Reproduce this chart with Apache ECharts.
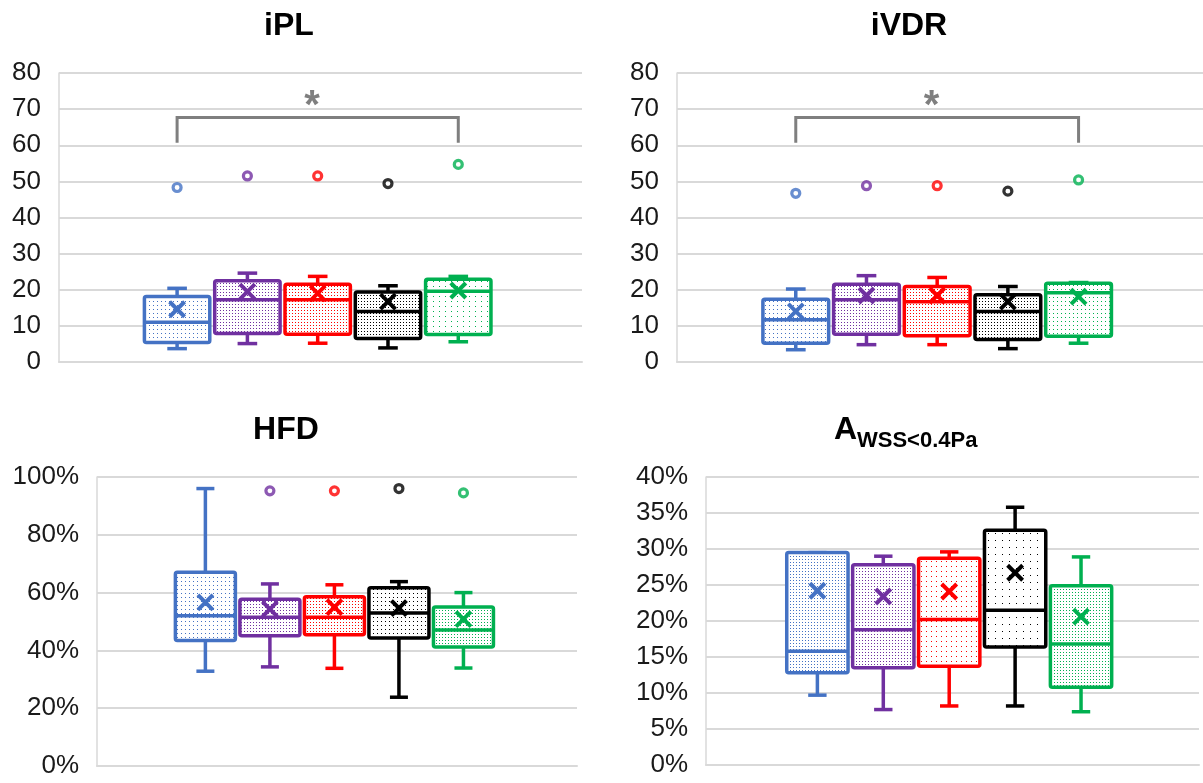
<!DOCTYPE html>
<html><head><meta charset="utf-8">
<script src="https://cdn.jsdelivr.net/npm/echarts@6/dist/echarts.min.js"></script>
<style>html,body{margin:0;padding:0;background:#fff}#c{width:1203px;height:783px}</style>
</head><body><div id="c"></div>
<script>
// ---- data ----
const groups = ['Group 1', 'Group 2', 'Group 3', 'Group 4', 'Group 5'];
const groupColors = ['#4472C4', '#7030A0', '#FF0000', '#000000', '#00B050'];

// iPL
const iplMin    = [3.7, 5.1, 5.2, 3.9, 5.6];
const iplQ1     = [5.4, 7.9, 7.7, 6.5, 7.6];
const iplMedian = [11.0, 17.2, 17.2, 14.0, 19.6];
const iplQ3     = [18.1, 22.5, 21.5, 19.4, 22.9];
const iplMax    = [20.4, 24.6, 23.7, 21.1, 23.7];
const iplMean   = [14.6, 19.5, 19.0, 16.7, 19.8];
const iplOutlier = [48.3, 51.5, 51.5, 49.4, 54.7];

// iVDR
const ivdrMin    = [3.4, 4.8, 4.8, 3.7, 5.2];
const ivdrQ1     = [5.2, 7.7, 7.3, 6.2, 7.1];
const ivdrMedian = [11.7, 17.2, 16.7, 14.0, 19.2];
const ivdrQ3     = [17.4, 21.5, 20.9, 18.6, 21.8];
const ivdrMax    = [20.2, 23.9, 23.4, 20.9, 22.0];
const ivdrMean   = [14.0, 18.4, 18.4, 16.7, 18.1];
const ivdrOutlier = [46.7, 48.8, 48.8, 47.3, 50.4];

// HFD (%)
const hfdMin    = [32.8, 34.3, 33.8, 23.8, 33.9];
const hfdQ1     = [43.4, 45.1, 45.4, 44.3, 41.2];
const hfdMedian = [52.0, 51.5, 51.5, 52.9, 47.1];
const hfdQ3     = [67.0, 57.7, 58.6, 61.7, 55.0];
const hfdMax    = [96.0, 63.0, 62.7, 63.8, 60.0];
const hfdMean   = [56.6, 54.3, 55.0, 54.6, 50.8];
const hfdOutlier = [null, 95.2, 95.2, 96.0, 94.5];

// A WSS<0.4Pa (%)
const awssMin    = [9.7, 7.7, 8.2, 8.2, 7.4];
const awssQ1     = [12.8, 13.5, 13.7, 16.4, 10.8];
const awssMedian = [15.8, 18.8, 20.2, 21.5, 16.8];
const awssQ3     = [29.5, 27.8, 28.7, 32.6, 24.9];
const awssMax    = [29.5, 29.0, 29.6, 35.8, 28.9];
const awssMean   = [24.2, 23.4, 24.1, 26.7, 20.6];
const awssOutlier = [null, null, null, null, null];

// y-axis ticks: [min, max, interval]
const iplTicks  = [0, 80, 10];
const ivdrTicks = [0, 80, 10];
const hfdTicks  = [0, 100, 20];
const awssTicks = [0, 40, 5];

// significance bracket: [from group, to group]
const sigPairIPL  = [0, 4];
const sigPairIVDR = [0, 4];

// ---- styling / layout ----
const FONT = '"Liberation Sans", Arial, sans-serif';
const GRID_COLOR = '#d9d9d9';
const BOX_W = 0.93;

function dotPattern(color, sx, sy) {
  const c = document.createElement('canvas');
  c.width = sx; c.height = sy;
  const ctx = c.getContext('2d');
  ctx.fillStyle = '#ffffff';
  ctx.fillRect(0, 0, sx, sy);
  ctx.fillStyle = color;
  ctx.fillRect(1, 1, 1, 1);
  return { image: c, repeat: 'repeat' };
}

const panels = [
  { min: iplMin, q1: iplQ1, med: iplMedian, q3: iplQ3, max: iplMax, mean: iplMean, out: iplOutlier,
    ticks: iplTicks, pct: false, grid: { left: 59, top: 73, width: 523, height: 289 }, xr: [-1.68, 5.76],
    steps: [[4, 4], [3, 3], [3, 3], [3, 3], [6, 5]], sig: sigPairIPL },
  { min: ivdrMin, q1: ivdrQ1, med: ivdrMedian, q3: ivdrQ3, max: ivdrMax, mean: ivdrMean, out: ivdrOutlier,
    ticks: ivdrTicks, pct: false, grid: { left: 677, top: 73, width: 526, height: 289 }, xr: [-1.68, 5.76],
    steps: [[4, 4], [3, 3], [3, 3], [3, 3], [4, 4]], sig: sigPairIVDR },
  { min: hfdMin, q1: hfdQ1, med: hfdMedian, q3: hfdQ3, max: hfdMax, mean: hfdMean, out: hfdOutlier,
    ticks: hfdTicks, pct: true, grid: { left: 97, top: 477, width: 480, height: 289 }, xr: [-1.68, 5.76],
    steps: [[4, 4], [3, 3], [3, 3], [4, 4], [3, 3]], sig: null },
  { min: awssMin, q1: awssQ1, med: awssMedian, q3: awssQ3, max: awssMax, mean: awssMean, out: awssOutlier,
    ticks: awssTicks, pct: true, grid: { left: 706, top: 477, width: 493, height: 288 }, xr: [-1.69, 5.79],
    steps: [[3, 3], [3, 3], [5, 5], [7, 7], [3, 3]], sig: null }
];

function boxRender(patterns) {
  return function (params, api) {
    const i = api.value(0);
    const vMin = api.value(1), q1 = api.value(2), med = api.value(3), q3 = api.value(4), vMax = api.value(5), mean = api.value(6);
    const cx = api.coord([i, med])[0];
    const Y = v => api.coord([i, v])[1];
    const bw = api.size([BOX_W, 0])[0];
    const color = groupColors[i];
    const lw = 3.5;
    const capW = bw * 0.3;
    const yq1 = Y(q1), yq3 = Y(q3), ymin = Y(vMin), ymax = Y(vMax), ymed = Y(med), ymean = Y(mean);
    const m = 7.5;
    const ls = { stroke: color, lineWidth: lw };
    return {
      type: 'group',
      children: [
        { type: 'line', shape: { x1: cx, y1: yq3, x2: cx, y2: ymax }, style: ls },
        { type: 'line', shape: { x1: cx, y1: yq1, x2: cx, y2: ymin }, style: ls },
        { type: 'line', shape: { x1: cx - capW / 2, y1: ymax, x2: cx + capW / 2, y2: ymax }, style: ls },
        { type: 'line', shape: { x1: cx - capW / 2, y1: ymin, x2: cx + capW / 2, y2: ymin }, style: ls },
        { type: 'rect', shape: { x: cx - bw / 2, y: yq3, width: bw, height: yq1 - yq3, r: 2 },
          style: { fill: patterns[i], stroke: color, lineWidth: lw } },
        { type: 'line', shape: { x1: cx - bw / 2, y1: ymed, x2: cx + bw / 2, y2: ymed }, style: ls },
        { type: 'line', shape: { x1: cx - m, y1: ymean - m, x2: cx + m, y2: ymean + m }, style: { stroke: color, lineWidth: 4 } },
        { type: 'line', shape: { x1: cx - m, y1: ymean + m, x2: cx + m, y2: ymean - m }, style: { stroke: color, lineWidth: 4 } }
      ]
    };
  };
}

function sigRender(params, api) {
  const from = api.value(0), to = api.value(1);
  const top = 67.7, leg = 60.7, star = 73;
  const p1 = api.coord([from, leg]), p2 = api.coord([from, top]);
  const p3 = api.coord([to, top]), p4 = api.coord([to, leg]);
  const ps = api.coord([(from + to) / 2 - 0.08, star]);
  return {
    type: 'group',
    children: [
      { type: 'polyline', shape: { points: [p1, p2, p3, p4] },
        style: { stroke: '#7f7f7f', lineWidth: 3, fill: null } },
      { type: 'text', x: ps[0], y: ps[1] + 9,
        style: { text: '*', fill: '#7f7f7f', font: 'bold 40px ' + FONT, align: 'center', verticalAlign: 'middle',
                 textAlign: 'center', textVerticalAlign: 'middle' } }
    ]
  };
}

const grid = [], xAxis = [], yAxis = [], series = [];
panels.forEach((p, k) => {
  grid.push(Object.assign({ containLabel: false }, p.grid));
  xAxis.push({
    type: 'value', gridIndex: k, min: p.xr[0], max: p.xr[1],
    axisLabel: { show: false }, axisTick: { show: false }, splitLine: { show: false },
    axisLine: { show: true, onZero: false, lineStyle: { color: GRID_COLOR, width: 2 } }
  });
  yAxis.push({
    type: 'value', gridIndex: k, min: p.ticks[0], max: p.ticks[1], interval: p.ticks[2],
    axisLine: { show: true, onZero: false, lineStyle: { color: GRID_COLOR, width: 1.5 } },
    axisTick: { show: false },
    splitLine: { show: true, lineStyle: { color: GRID_COLOR, width: 2 } },
    axisLabel: { color: '#1a1a1a', fontSize: 26, fontFamily: FONT, margin: 18,
                 formatter: p.pct ? '{value}%' : '{value}' }
  });
  const patterns = groupColors.map((c, i) => dotPattern(c, p.steps[i][0], p.steps[i][1]));
  series.push({
    type: 'custom', xAxisIndex: k, yAxisIndex: k,
    renderItem: boxRender(patterns),
    encode: { x: 0, y: 3 },
    data: groups.map((g, i) => [i, p.min[i], p.q1[i], p.med[i], p.q3[i], p.max[i], p.mean[i]])
  });
  series.push({
    type: 'scatter', xAxisIndex: k, yAxisIndex: k, symbol: 'circle', symbolSize: 8,
    data: groups.map((g, i) => p.out[i] == null ? null : {
      value: [i, p.out[i]], itemStyle: { color: '#ffffff', borderColor: groupColors[i], borderWidth: 3.2 }
    }).filter(d => d)
  });
  if (p.sig) {
    series.push({
      type: 'custom', xAxisIndex: k, yAxisIndex: k, renderItem: sigRender,
      encode: { x: [0, 1] }, data: [p.sig]
    });
  }
});

const titleFont = 'bold 32px ' + FONT;
const chart = echarts.init(document.getElementById('c'), null, { renderer: 'canvas' });
chart.setOption({
  animation: false,
  backgroundColor: '#ffffff',
  grid, xAxis, yAxis, series,
  graphic: [
    { type: 'text', x: 289, y: 26, style: { text: 'iPL', font: titleFont, fill: '#000', align: 'center', verticalAlign: 'middle', textAlign: 'center', textVerticalAlign: 'middle' } },
    { type: 'text', x: 909, y: 26, style: { text: 'iVDR', font: titleFont, fill: '#000', align: 'center', verticalAlign: 'middle', textAlign: 'center', textVerticalAlign: 'middle' } },
    { type: 'text', x: 286, y: 430, style: { text: 'HFD', font: titleFont, fill: '#000', align: 'center', verticalAlign: 'middle', textAlign: 'center', textVerticalAlign: 'middle' } },
    { type: 'text', x: 834, y: 430, style: { text: 'A', font: titleFont, fill: '#000', align: 'left', verticalAlign: 'middle', textAlign: 'left', textVerticalAlign: 'middle' } },
    { type: 'text', x: 857, y: 441, style: { text: 'WSS<0.4Pa', font: 'bold 22px ' + FONT, fill: '#000', align: 'left', verticalAlign: 'middle', textAlign: 'left', textVerticalAlign: 'middle' } }
  ]
});
</script>
</body></html>
